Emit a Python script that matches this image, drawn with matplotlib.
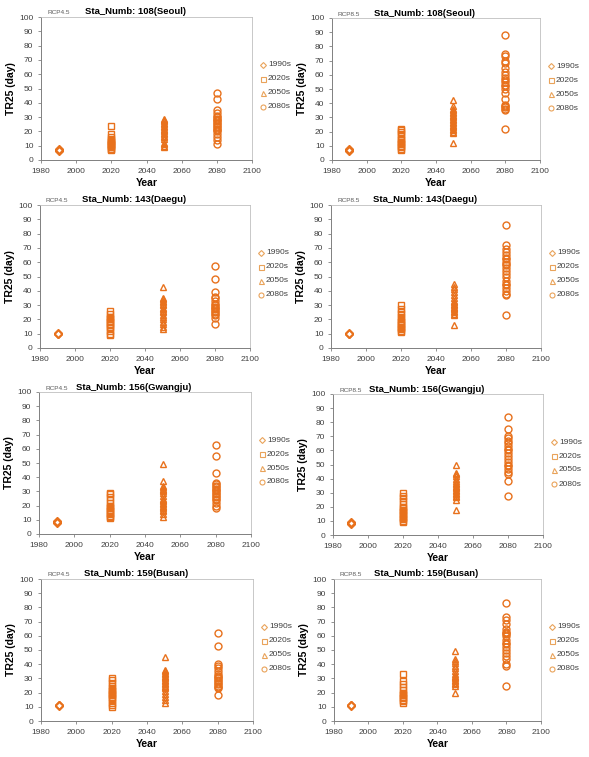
import matplotlib.pyplot as plt

plt.rcParams['font.family'] = ['Liberation Sans', 'DejaVu Sans']

W, H = 589, 757

years = [1990, 2020, 2050, 2080]
decades = ['1990s', '2020s', '2050s', '2080s']
markers = ['D', 's', '^', 'o']
stations = ['108(Seoul)', '143(Daegu)', '156(Gwangju)', '159(Busan)']
scenarios = ['RCP4.5', 'RCP8.5']

# TR25 values per decade (1990s, 2020s, 2050s, 2080s)
seoul_45 = [
    [6.5, 7, 7.5],
    [7, 7.5, 8, 9, 10, 10.5, 11, 11.5, 12, 12.5, 13, 14, 15, 16, 18, 24],
    [9, 10, 11, 12, 15, 16, 17, 18, 19, 20, 21, 22, 23, 24, 25, 26, 27, 28, 29],
    [11, 14, 16, 18, 20, 21, 22, 23, 24, 25, 26, 27, 28, 29, 30, 31, 33, 35, 43, 47],
]
seoul_85 = [
    [6.5, 7, 7.5],
    [7, 8, 9, 10, 11, 12, 13, 14, 15, 17, 18, 20, 21, 22],
    [12, 19, 20, 21, 22, 23, 24, 25, 26, 27, 28, 29, 30, 31, 32, 33, 34, 35, 36, 38, 42],
    [22, 35, 36, 37, 38, 39, 43, 47, 50, 52, 53, 55, 56, 58, 60, 62, 65, 68, 70, 73, 75, 88],
]
daegu_45 = [
    [9.5, 10, 10.5],
    [9, 10, 12, 14, 15, 16, 17, 18, 19, 20, 21, 22, 24, 26],
    [13, 15, 17, 18, 20, 22, 23, 25, 26, 27, 28, 30, 31, 32, 33, 34, 35, 43],
    [17, 21, 23, 24, 25, 26, 27, 28, 29, 30, 31, 33, 35, 36, 39, 48, 57],
]
daegu_85 = [
    [9.5, 10, 10.5],
    [11, 12, 13, 14, 15, 16, 17, 18, 19, 20, 22, 24, 25, 27, 30],
    [16, 23, 24, 25, 26, 27, 28, 29, 30, 31, 32, 33, 35, 37, 39, 41, 43, 45],
    [23, 37, 38, 40, 42, 44, 45, 47, 50, 52, 54, 56, 58, 59, 60, 62, 63, 65, 67, 69, 72, 86],
]
gwangju_45 = [
    [8, 8.5, 9],
    [11, 12, 13, 14, 15, 16, 17, 18, 19, 20, 22, 24, 26, 28, 29],
    [12, 14, 16, 17, 18, 19, 20, 21, 22, 23, 24, 25, 27, 29, 30, 31, 32, 33, 34, 37, 49],
    [18, 20, 22, 24, 25, 26, 27, 28, 29, 30, 31, 32, 33, 34, 35, 36, 43, 55, 63],
]
gwangju_85 = [
    [8, 8.5, 9],
    [9, 10, 11, 12, 13, 14, 15, 16, 17, 18, 19, 20, 22, 24, 26, 28, 30],
    [18, 25, 27, 28, 29, 30, 31, 32, 33, 34, 35, 36, 37, 38, 40, 42, 43, 44, 50],
    [28, 38, 43, 45, 47, 49, 50, 52, 54, 56, 58, 60, 61, 63, 65, 67, 69, 70, 75, 84],
]
busan_45 = [
    [10.5, 11, 11.5],
    [10, 11, 13, 15, 16, 17, 18, 19, 20, 21, 22, 23, 25, 27, 29, 30],
    [13, 15, 17, 19, 21, 23, 24, 25, 26, 27, 28, 29, 30, 31, 32, 33, 34, 35, 36, 45],
    [18, 23, 24, 25, 26, 27, 28, 29, 30, 31, 32, 33, 35, 37, 39, 40, 53, 62],
]
busan_85 = [
    [10.5, 11, 11.5],
    [13, 14, 15, 16, 17, 18, 19, 20, 22, 24, 26, 28, 33],
    [20, 25, 26, 27, 28, 29, 30, 31, 32, 33, 35, 37, 39, 41, 42, 44, 49],
    [25, 39, 40, 44, 46, 48, 50, 52, 54, 55, 57, 60, 61, 62, 63, 65, 68, 71, 73, 83],
]

panels = [
    [seoul_45, seoul_85],
    [daegu_45, daegu_85],
    [gwangju_45, gwangju_85],
    [busan_45, busan_85],
]

# plot-area boxes in pixels: (left, top, right, bottom)
boxes = [
    [(41, 17, 252, 160), (332, 18, 540, 160)],
    [(40, 205, 250, 348), (331, 205, 541, 348)],
    [(39, 392, 251, 534), (333, 394, 543, 535)],
    [(41, 579, 253, 721), (334, 579, 541, 721)],
]

orange = '#E8711C'
legend_orange = '#E9A35A'

fig = plt.figure(figsize=(W / 100, H / 100), dpi=100)

for r in range(4):
    for c in range(2):
        l, t, rr, b = boxes[r][c]
        ax = fig.add_axes([l / W, 1 - b / H, (rr - l) / W, (b - t) / H])
        data = panels[r][c]
        for i, vals in enumerate(data):
            ax.plot([years[i]] * len(vals), vals, linestyle='none',
                    marker=markers[i], markersize=5.0 if markers[i] != 'D' else 4.2,
                    markerfacecolor='none', markeredgecolor=orange,
                    markeredgewidth=1.0)
        ax.set_xlim(1980, 2100)
        ax.set_ylim(0, 100)
        ax.set_xticks(range(1980, 2101, 20))
        ax.set_yticks(range(0, 101, 10))
        ax.tick_params(labelsize=6, length=2, width=0.6, color='#808080',
                       labelcolor='#404040')
        ax.tick_params(axis='x', pad=4)
        ax.tick_params(axis='y', pad=3.5)
        for s in ['top', 'right']:
            ax.spines[s].set_color('#BFBFBF')
            ax.spines[s].set_linewidth(0.6)
        for s in ['left', 'bottom']:
            ax.spines[s].set_color('#808080')
            ax.spines[s].set_linewidth(0.7)
        ax.set_xlabel('Year', fontsize=7.5, fontweight='bold', labelpad=2)
        ax.set_ylabel('TR25 (day)', fontsize=7.5, fontweight='bold', labelpad=2)

        # title and scenario tag
        cx = (l + rr) / 2 - 11
        fig.text(cx / W, 1 - (t - 5) / H, 'Sta_Numb: ' + stations[r],
                 fontsize=6.8, fontweight='bold', ha='center', va='center')
        fig.text((l + 6) / W, 1 - (t - 4) / H, scenarios[c],
                 fontsize=4.6, color='#595959', ha='left', va='center')

        # legend
        for i, d in enumerate(decades):
            y = t + 48 + i * 14
            x = rr + 11
            fig.lines.append(plt.Line2D([x / W], [1 - y / H], transform=fig.transFigure,
                                        marker=markers[i], markersize=3.6 if markers[i] != 'D' else 3.0,
                                        markerfacecolor='none', markeredgecolor=legend_orange,
                                        markeredgewidth=0.8, linestyle='none'))
            fig.text((x + 5) / W, 1 - y / H, d, fontsize=6, color='#404040',
                     ha='left', va='center')

fig.savefig('out.png', dpi=100)
